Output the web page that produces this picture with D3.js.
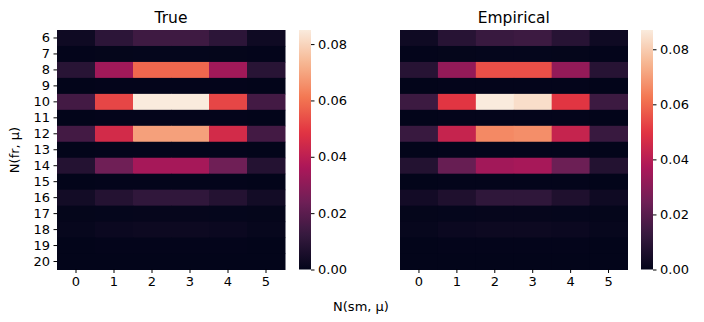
<!DOCTYPE html>
<html><head><meta charset="utf-8">
<script src="https://cdn.jsdelivr.net/npm/d3@7"></script>
<style>body{margin:0;background:#fff}svg{display:block;font-family:"DejaVu Sans",sans-serif}</style>
</head><body><svg id="c" width="704" height="322"></svg>
<script>
const rowLabels = ["6","7","8","9","10","11","12","13","14","15","16","17","18","19","20"];
const colLabels = ["0","1","2","3","4","5"];
const trueVals = [
  [0.003,0.010,0.014,0.014,0.010,0.003],
  [0.0003,0.0005,0.0006,0.0006,0.0005,0.0003],
  [0.009,0.034,0.058,0.058,0.034,0.009],
  [0.0001,0.0002,0.0002,0.0002,0.0002,0.0001],
  [0.015,0.052,0.085,0.085,0.052,0.015],
  [0.0001,0.0002,0.0002,0.0002,0.0002,0.0001],
  [0.015,0.045,0.069,0.069,0.045,0.015],
  [0.0001,0.0002,0.0002,0.0002,0.0002,0.0001],
  [0.008,0.024,0.035,0.035,0.024,0.008],
  [0.0001,0.0002,0.0002,0.0002,0.0002,0.0001],
  [0.004,0.008,0.011,0.011,0.008,0.004],
  [0.0004,0.0006,0.0007,0.0007,0.0006,0.0004],
  [0.001,0.002,0.0025,0.0025,0.002,0.001],
  [0.0001,0.0002,0.0002,0.0002,0.0002,0.0001],
  [0.0001,0.0001,0.0001,0.0001,0.0001,0.0001]
];
const empVals = [
  [0.003,0.009,0.013,0.014,0.009,0.003],
  [0.0003,0.0005,0.0006,0.0006,0.0005,0.0003],
  [0.009,0.032,0.055,0.055,0.032,0.009],
  [0.0001,0.0002,0.0002,0.0002,0.0002,0.0001],
  [0.014,0.050,0.087,0.084,0.050,0.014],
  [0.0001,0.0002,0.0002,0.0002,0.0002,0.0001],
  [0.013,0.043,0.066,0.067,0.043,0.013],
  [0.0001,0.0002,0.0002,0.0002,0.0002,0.0001],
  [0.008,0.023,0.035,0.036,0.024,0.008],
  [0.0001,0.0002,0.0002,0.0002,0.0002,0.0001],
  [0.004,0.007,0.011,0.011,0.007,0.003],
  [0.0004,0.0006,0.0007,0.0007,0.0006,0.0004],
  [0.001,0.002,0.0025,0.0025,0.002,0.001],
  [0.0001,0.0002,0.0002,0.0002,0.0002,0.0001],
  [0.0001,0.0001,0.0001,0.0001,0.0001,0.0001]
];
const cbTicks = [0, 0.02, 0.04, 0.06, 0.08];

const rocketStops = [0,1/7,2/7,3/7,4/7,5/7,6/7,1];
const rocketColors = ["#03051a","#35193e","#701f57","#ad1759","#e13342","#f37651","#f6b48f","#faebdd"];
const rocket = d3.scaleLinear().domain(rocketStops).range(rocketColors).interpolate(d3.interpolateRgb).clamp(true);

const svg = d3.select("#c");
function panel(vals, x0, x1, cbx, title, showY){
  const vmax = d3.max(vals.flat());
  const top = 30, bottom = 269.5;
  const x = d3.scaleBand().domain(colLabels).range([x0,x1]);
  const y = d3.scaleBand().domain(rowLabels).range([top,bottom]);
  const g = svg.append("g");
  vals.forEach((row,i)=>row.forEach((v,j)=>{
    g.append("rect").attr("x",x(colLabels[j])).attr("y",y(rowLabels[i]))
     .attr("width",x.bandwidth()+0.5).attr("height",y.bandwidth()+0.5)
     .attr("fill",rocket(v/vmax));
  }));
  const xa = svg.append("g").attr("transform",`translate(0,${bottom})`).call(d3.axisBottom(x).tickSize(3.5).tickPadding(3.5));
  xa.select(".domain").remove();
  xa.selectAll("text").attr("font-size","13px").attr("font-family","DejaVu Sans").attr("fill","#000");
  if(showY){
    const ya = svg.append("g").attr("transform",`translate(${x0},0)`).call(d3.axisLeft(y).tickSize(3.5).tickPadding(3.5));
    ya.select(".domain").remove();
    ya.selectAll("text").attr("font-size","13px").attr("font-family","DejaVu Sans").attr("fill","#000");
  }
  svg.append("text").attr("x",(x0+x1)/2).attr("y",23).attr("text-anchor","middle")
    .attr("font-size","15.5px").text(title);
  // colorbar
  const cw = 12;
  const cy = d3.scaleLinear().domain([0,vmax]).range([bottom,top]);
  const id = "g"+Math.round(cbx);
  const grad = svg.append("defs").append("linearGradient").attr("id",id)
    .attr("x1",0).attr("y1",1).attr("x2",0).attr("y2",0);
  d3.range(0,1.0001,0.02).forEach(t=>grad.append("stop").attr("offset",t).attr("stop-color",rocket(t)));
  svg.append("rect").attr("x",cbx).attr("y",top).attr("width",cw).attr("height",bottom-top).attr("fill",`url(#${id})`);
  const ca = svg.append("g").attr("transform",`translate(${cbx+cw},0)`)
    .call(d3.axisRight(cy).tickValues(cbTicks).tickFormat(d3.format(".2f")).tickSize(3.5).tickPadding(3.5));
  ca.select(".domain").remove();
  ca.selectAll("text").attr("font-size","13px").attr("font-family","DejaVu Sans").attr("fill","#000");
}
panel(trueVals, 57, 285, 299, "True", true);
panel(empVals, 400, 627.5, 641, "Empirical", false);
svg.append("text").attr("x",361).attr("y",311).attr("text-anchor","middle").attr("font-size","13px").text("N(sm, μ)");
svg.append("text").attr("transform","translate(19,150) rotate(-90)").attr("text-anchor","middle").attr("font-size","13px").text("N(fr, μ)");
</script></body></html>
